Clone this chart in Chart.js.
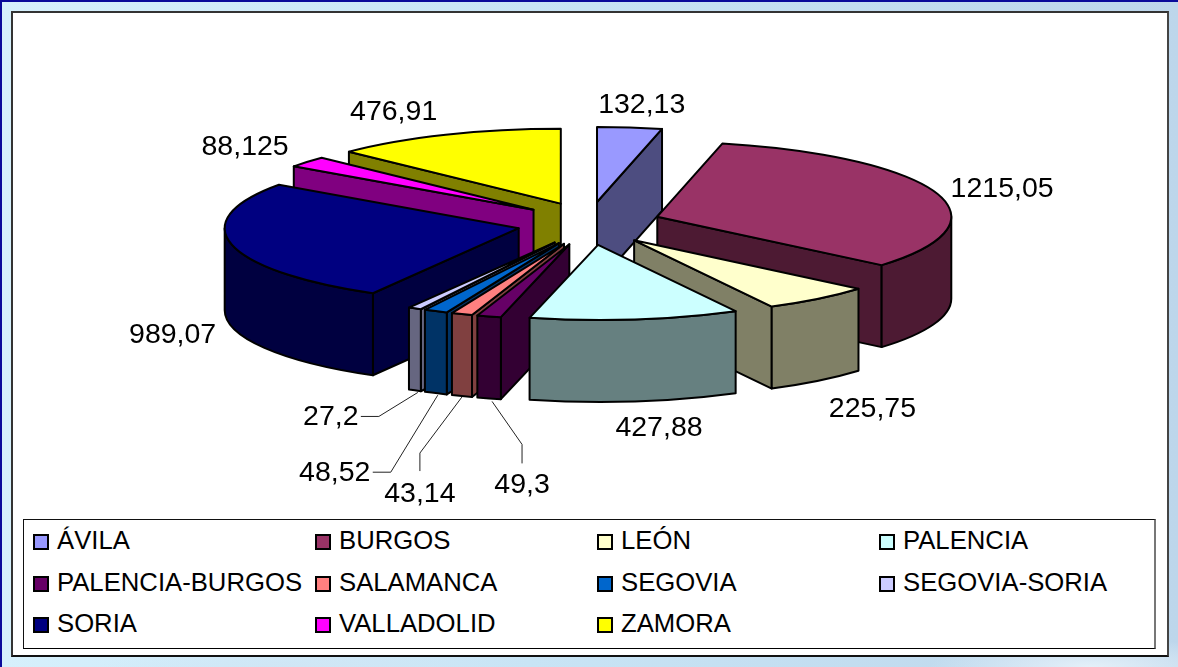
<!DOCTYPE html>
<html>
<head>
<meta charset="utf-8">
<script src="https://cdn.jsdelivr.net/npm/chart.js@4/dist/chart.umd.min.js"></script>
<style>
  html, body { margin: 0; padding: 0; }
  body {
    width: 1178px; height: 667px; position: relative; overflow: hidden;
    background:
      radial-gradient(ellipse 160px 30px at 1090px 667px, #e4f0f9 0%, rgba(228,240,249,0) 100%),
      radial-gradient(ellipse 200px 20px at 300px 667px, #d0e6f5 0%, rgba(208,230,245,0) 100%),
      linear-gradient(90deg, #d6f0fc 0%, #c8e4f5 45%, #bdd6eb 100%);
    font-family: "Liberation Sans", Arial, sans-serif;
  }
  #edgeTop { position: absolute; left: 0; top: 0; width: 1178px; height: 2px; background: #0a0a9a; }
  #edgeLeft { position: absolute; left: 0; top: 0; width: 2px; height: 667px; background: #0a0a9a; }
  #frame {
    position: absolute; left: 11px; top: 11px; width: 1154px; height: 642px;
    background: #fff; border: 2px solid #333;
    border-bottom-color: #111; border-right-color: #444;
  }
  canvas { position: absolute; left: 0; top: 0; }
  #legend {
    position: absolute; left: 23px; top: 519px; width: 1130px; height: 128px;
    background: #fff; border: 1px solid #111; border-right: 2px solid #777;
    border-bottom: 1px solid #000;
  }
  .item { position: absolute; font-size: 25.7px; line-height: 30px; color: #000; white-space: nowrap; }
  .swatch {
    position: absolute; left: -24px; top: 9px; width: 12px; height: 12px;
    border: 2px solid #000; box-sizing: content-box;
  }
</style>
</head>
<body>
<div id="edgeTop"></div>
<div id="edgeLeft"></div>
<div id="frame"></div>
<canvas id="myChart" width="1178" height="667"></canvas>
<div id="legend"></div>
<script>
var provincias = ['ÁVILA', 'BURGOS', 'LEÓN', 'PALENCIA', 'PALENCIA-BURGOS', 'SALAMANCA',
  'SEGOVIA', 'SEGOVIA-SORIA', 'SORIA', 'VALLADOLID', 'ZAMORA'];
var valores = [132.13, 1215.05, 225.75, 427.88, 49.3, 43.14, 48.52, 27.2, 989.07, 88.125, 476.91];
var colores = ['#9999FF', '#993366', '#FFFFCC', '#CCFFFF', '#660066', '#FF8080',
  '#0066CC', '#CCCCFF', '#000080', '#FF00FF', '#FFFF00'];
var coloresPared = ['#4D4D80', '#4D1A33', '#808066', '#668080', '#330033', '#804040',
  '#003366', '#666680', '#000040', '#800080', '#808000'];

// 3d look of the pie
var RADIO = 294, SQUASH = 0.255, EXPLODE = 72, EXPLODE_Y = 0.3, DEPTH = 82;
var CENTER_Y = 223.5;
// back slices first, so the front ones cover them
var ordenDibujo = [10, 0, 9, 1, 8, 7, 6, 5, 4, 2, 3];

// label centre, relative to the outer middle of each slice
var labelNudge = [[12, -22], [66, -4], [54, 110], [24, 109], [33, 169], [-42, 180],
  [-101, 162], [-84, 109], [-59, 91], [-62, -15], [-52, -23]];
// leader lines of the small slices, same reference point
var leaders = {
  4: [[3, 85], [33, 128], [33, 147]],
  5: [[0, 83], [-42, 139], [-42, 157]],
  6: [[2, 84], [-45, 161], [-63, 161]],
  7: [[3, 84], [-36, 108], [-54, 108]]
};

function sliceGeom(arc) {
  var mid = (arc.startAngle + arc.endAngle) / 2;
  return {
    x: arc.x + Math.cos(mid) * EXPLODE,
    y: CENTER_Y + Math.sin(mid) * EXPLODE * EXPLODE_Y,
    rx: arc.outerRadius,
    ry: arc.outerRadius * SQUASH,
    mid: mid
  };
}

function edgeWall(ctx, g, a) {
  var px = g.x + g.rx * Math.cos(a), py = g.y + g.ry * Math.sin(a);
  ctx.beginPath();
  ctx.moveTo(g.x, g.y);
  ctx.lineTo(px, py);
  ctx.lineTo(px, py + DEPTH);
  ctx.lineTo(g.x, g.y + DEPTH);
  ctx.closePath();
  ctx.fill();
  ctx.stroke();
}

function drawSlice(ctx, arc, i) {
  var g = sliceGeom(arc);
  ctx.save();
  ctx.lineWidth = 2;
  ctx.lineJoin = 'round';
  ctx.strokeStyle = '#000';
  ctx.fillStyle = coloresPared[i];

  if (Math.cos(arc.startAngle) < 0) edgeWall(ctx, g, arc.startAngle);
  if (Math.cos(arc.endAngle) > 0) edgeWall(ctx, g, arc.endAngle);

  // curved part, only what faces the viewer
  var a0 = Math.max(arc.startAngle, 0), a1 = Math.min(arc.endAngle, Math.PI);
  if (a1 > a0) {
    ctx.beginPath();
    ctx.ellipse(g.x, g.y, g.rx, g.ry, 0, a0, a1);
    ctx.ellipse(g.x, g.y + DEPTH, g.rx, g.ry, 0, a1, a0, true);
    ctx.closePath();
    ctx.fill();
    ctx.stroke();
  }

  // the top is the library's own arc, squashed
  ctx.save();
  ctx.translate(g.x, g.y);
  ctx.scale(1, SQUASH);
  ctx.translate(-arc.x, -arc.y);
  arc.draw(ctx);
  ctx.restore();

  ctx.beginPath();
  ctx.moveTo(g.x, g.y);
  ctx.ellipse(g.x, g.y, g.rx, g.ry, 0, arc.startAngle, arc.endAngle);
  ctx.closePath();
  ctx.stroke();
  ctx.restore();
}

var pie3d = {
  id: 'pie3d',
  beforeDatasetDraw: function(chart, args) {
    var ctx = chart.ctx;
    var arcs = args.meta.data;
    for (var k = 0; k < ordenDibujo.length; k++) {
      drawSlice(ctx, arcs[ordenDibujo[k]], ordenDibujo[k]);
    }
    return false;
  },
  afterDatasetsDraw: function(chart) {
    var ctx = chart.ctx;
    var arcs = chart.getDatasetMeta(0).data;
    ctx.save();
    ctx.font = '28.5px "Liberation Sans", Arial, sans-serif';
    ctx.textAlign = 'center';
    ctx.textBaseline = 'middle';
    for (var i = 0; i < arcs.length; i++) {
      var g = sliceGeom(arcs[i]);
      var ax = g.x + g.rx * Math.cos(g.mid), ay = g.y + g.ry * Math.sin(g.mid);
      if (leaders[i]) {
        ctx.beginPath();
        ctx.strokeStyle = '#222';
        ctx.lineWidth = 1;
        leaders[i].forEach(function(p, n) {
          if (n == 0) ctx.moveTo(ax + p[0], ay + p[1]);
          else ctx.lineTo(ax + p[0], ay + p[1]);
        });
        ctx.stroke();
      }
      ctx.fillStyle = '#000';
      ctx.fillText(String(valores[i]).replace('.', ','), ax + labelNudge[i][0], ay + labelNudge[i][1]);
    }
    ctx.restore();
  }
};

new Chart(document.getElementById('myChart'), {
  type: 'pie',
  data: {
    labels: provincias,
    datasets: [{
      data: valores,
      backgroundColor: colores,
      borderWidth: 0,
      clip: false
    }]
  },
  options: {
    responsive: false,
    animation: false,
    radius: RADIO,
    plugins: { legend: { display: false }, tooltip: { enabled: false } }
  },
  plugins: [pie3d]
});

// legend in a four column grid
var legend = document.getElementById('legend');
for (var i = 0; i < provincias.length; i++) {
  var item = document.createElement('div');
  item.className = 'item';
  item.style.left = (33 + (i % 4) * 282) + 'px';
  item.style.top = (5 + Math.floor(i / 4) * 41.5) + 'px';
  item.textContent = provincias[i];
  var sw = document.createElement('span');
  sw.className = 'swatch';
  sw.style.background = colores[i];
  item.appendChild(sw);
  legend.appendChild(item);
}
</script>
</body>
</html>
